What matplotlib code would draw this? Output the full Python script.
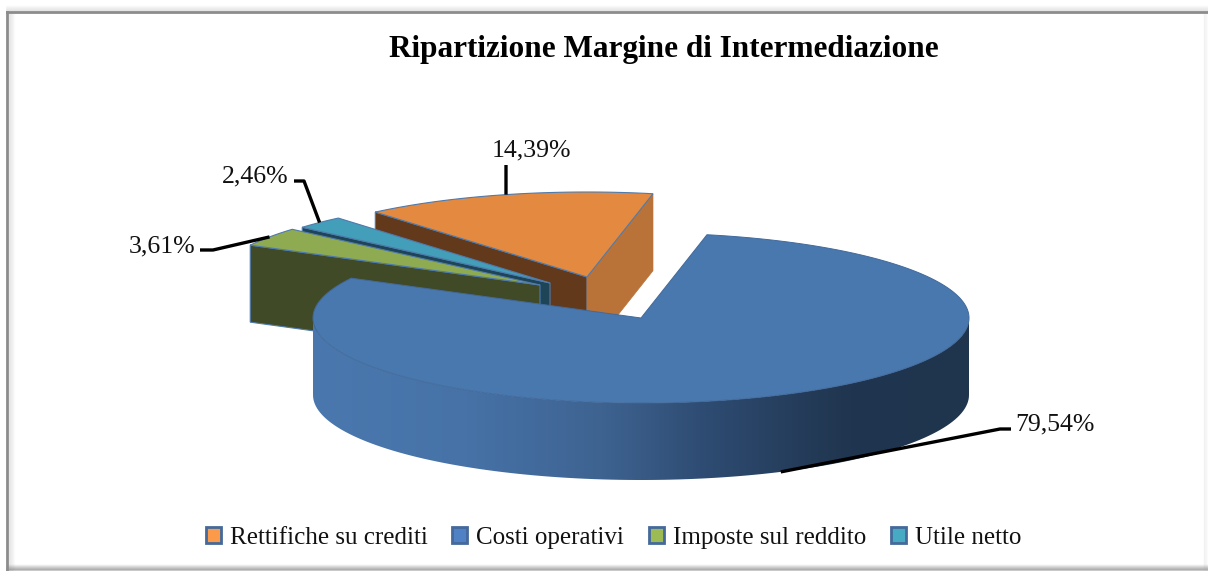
import matplotlib
matplotlib.use('Agg')
import matplotlib.pyplot as plt
import numpy as np
from matplotlib.colors import LinearSegmentedColormap
from matplotlib.patches import Patch, Polygon

plt.rcParams['font.family'] = ['Liberation Serif', 'DejaVu Serif']

# Data
categories = ['Rettifiche su crediti', 'Costi operativi', 'Imposte sul reddito', 'Utile netto']
shares = [14.39, 79.54, 3.61, 2.46]
share_labels = ['14,39%', '79,54%', '3,61%', '2,46%']

# Colors for the parts of each slice
top_colors = ['#E38A40', '#4978AE', '#8EAB52', '#439EB9']
left_face_colors = ['#63391C', None, '#414A26', '#1D4457']
legend_colors = ['#FB9A48', '#4F81C4', '#9DBB54', '#46AAC4']
edge_color = '#4F7AAB'

# Pie geometry, in pixels of the picture
rx, ry, depth = 328, 85, 77
start_angle = -40.2  # clockwise from the top
apex = [(587, 277), (641, 318), (540, 285), (550, 283)]
# label centre, then the elbow of the leader line nearest to it
label_pos = [(531, 150), (1055, 424), (162, 246), (255, 176)]
leader_elbow = [[(506, 165)], [(1011, 429), (1000, 429)], [(200, 250), (213, 250)], [(294, 181), (304, 181)]]


def rim(center, a1, a2, n=120):
    t = np.radians(np.linspace(a1, a2, n))
    return np.column_stack([center[0] + rx * np.sin(t), center[1] - ry * np.cos(t)])


def down(points):
    return points + np.array([0, depth])


fig = plt.figure(figsize=(12.08, 5.71), dpi=100)
ax = fig.add_axes([0, 0, 1, 1])
ax.set_xlim(0, 1208)
ax.set_ylim(571, 0)
ax.axis('off')

# Slice angles from the values
sweeps = np.array(shares) / sum(shares) * 360
starts = start_angle + np.concatenate([[0], np.cumsum(sweeps)[:-1]])
ends = starts + sweeps
mids = (starts + ends) / 2

# Frame with its soft shadow
for i in range(6):
    ax.plot([7, 1208], [6 + i, 6 + i], color='#808080', alpha=0.02 + i * 0.025, lw=1.2, zorder=1)
    ax.plot([1207 - i * 0.7] * 2, [12, 571], color='#b0b0b0', alpha=0.02 + i * 0.012, lw=1, zorder=1)
    ax.plot([7, 1208], [570 - i, 570 - i], color='#808080', alpha=0.55 - i * 0.1, lw=1.1, zorder=1)
    ax.plot([9 + i, 9 + i], [12, 571], color='#808080', alpha=0.15 - i * 0.025, lw=1, zorder=1)
ax.plot([7, 1208], [12, 12], color='#8c8c8c', lw=2, zorder=2)
ax.plot([7, 7], [12, 571], color='#8c8c8c', lw=2, zorder=2)

# Back to front, the big slice covers the others
for idx, z in [(0, 3), (3, 4), (2, 5)]:
    c = np.array(apex[idx], dtype=float)
    arc = rim(c, starts[idx], ends[idx])
    lo = arc[0]
    hi = arc[-1]
    left = np.array([c, lo, lo + [0, depth], c + [0, depth]])
    ax.add_patch(Polygon(left, closed=True, fc=left_face_colors[idx], ec=edge_color, lw=0.8, zorder=z))
    if idx == 0:
        right = np.array([c, hi, hi + [0, depth], c + [0, depth]])
        ax.add_patch(Polygon(right, closed=True, fc='#B97238', ec='#B97238', lw=0.5, zorder=z))
    top = np.vstack([c, arc])
    ax.add_patch(Polygon(top, closed=True, fc=top_colors[idx], ec=edge_color, lw=0.8, zorder=z + 0.1))

# Costi operativi: gradient side wall, then the top
c = np.array(apex[1], dtype=float)
front = rim(c, 90, 270)
wall = Polygon(np.vstack([front, down(front)[::-1]]), closed=True, fc='none', ec='none', transform=ax.transData)
ax.add_patch(wall)
wall_cmap = LinearSegmentedColormap.from_list('wall', [(0, '#4A78AE'), (0.235, '#4672A7'), (0.44, '#3E6391'),
                                                       (0.61, '#2D4A70'), (0.77, '#233A56'), (0.82, '#20354F'),
                                                       (1, '#1F344D')])
grad = ax.imshow(np.linspace(0, 1, 256).reshape(1, -1), extent=(c[0] - rx, c[0] + rx, c[1] + ry + depth, c[1]),
                 cmap=wall_cmap, aspect='auto', zorder=6)
grad.set_clip_path(wall)
ax.set_xlim(0, 1208)
ax.set_ylim(571, 0)
arc = rim(c, starts[1], ends[1], 400)
ax.add_patch(Polygon(np.vstack([c, arc]), closed=True, fc=top_colors[1], ec='#41699A', lw=0.7, zorder=7))

# Leader lines end on the rim, at the middle of each slice
for i in range(len(shares)):
    anchor = rim(apex[i], mids[i], mids[i], 1)
    if i == 1:
        anchor = down(anchor)
    path = np.vstack([leader_elbow[i], anchor])
    ax.plot(path[:, 0], path[:, 1], color='black', lw=2.4, solid_capstyle='butt', solid_joinstyle='round', zorder=8)
    ax.text(label_pos[i][0], label_pos[i][1], share_labels[i], fontsize=18.5, ha='center', va='center', color='#111111', zorder=9)

ax.text(664, 49, 'Ripartizione Margine di Intermediazione', fontsize=22.5, fontweight='bold', ha='center', va='center', color='black')

# Legend
handles = [Patch(facecolor=legend_colors[i], edgecolor='#44699A', linewidth=2, label=categories[i]) for i in range(4)]
ax.legend(handles=handles, ncol=4, loc='center', bbox_to_anchor=(613.5 / 1208, 1 - 538 / 571), frameon=False,
          fontsize=18, handlelength=0.6, handleheight=0.6, handletextpad=0.35, columnspacing=1.0, labelcolor='#111111')

fig.savefig('out.png', dpi=100)
